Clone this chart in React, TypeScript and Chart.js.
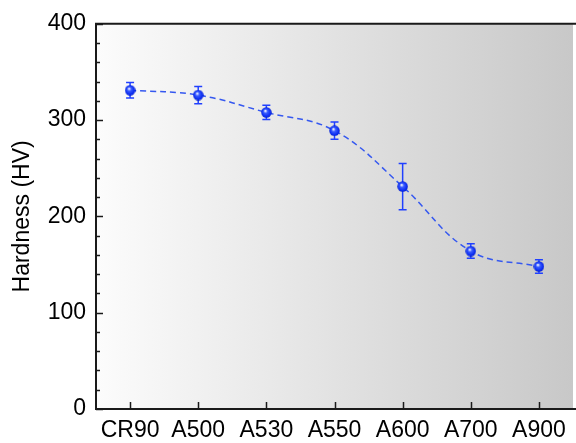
import React, { useEffect, useRef } from "react";
import { Chart, registerables } from "chart.js";

Chart.register(...registerables);

const categories = ["CR90", "A500", "A530", "A550", "A600", "A700", "A900"];
const hardness = [331, 326, 308, 289, 231, 164, 148];
const hardnessErr = [8, 9, 7.5, 9, 24, 7.5, 7];
const yTicks = [0, 100, 200, 300, 400];

const FONT = "'Liberation Sans', Arial, sans-serif";

function makeSphere(d: number): HTMLCanvasElement {
  const c = document.createElement("canvas");
  c.width = d;
  c.height = d;
  const g = c.getContext("2d")!;
  const r = d / 2;
  const grad = g.createRadialGradient(r * 0.8, r * 0.7, 0.5, r, r, r);
  grad.addColorStop(0, "#e8ecff");
  grad.addColorStop(0.3, "#3a5cff");
  grad.addColorStop(0.8, "#0a2af0");
  grad.addColorStop(1, "#0018c0");
  g.fillStyle = grad;
  g.beginPath();
  g.arc(r, r, r - 0.3, 0, Math.PI * 2);
  g.fill();
  return c;
}

const bgPlugin = {
  id: "bgGradient",
  beforeDraw(chart: any) {
    const { ctx, chartArea } = chart;
    const { left, right, top, bottom } = chartArea;
    const grad = ctx.createLinearGradient(left, 0, right, 0);
    grad.addColorStop(0, "#fcfcfc");
    grad.addColorStop(1, "#c8c8c8");
    ctx.save();
    ctx.fillStyle = grad;
    ctx.fillRect(left, top, right - left, bottom - top);
    ctx.restore();
  },
};

const errorBarPlugin = {
  id: "errorBars",
  beforeDatasetsDraw(chart: any) {
    const { ctx } = chart;
    const meta = chart.getDatasetMeta(0);
    const ys = chart.scales.y;
    ctx.save();
    ctx.strokeStyle = "#2040ff";
    ctx.lineWidth = 1.5;
    meta.data.forEach((pt: any, i: number) => {
      const x = pt.x;
      const v = hardness[i];
      const e = hardnessErr[i];
      const yTop = ys.getPixelForValue(v + e);
      const yBot = ys.getPixelForValue(v - e);
      ctx.beginPath();
      ctx.moveTo(x, yTop);
      ctx.lineTo(x, yBot);
      ctx.moveTo(x - 4, yTop);
      ctx.lineTo(x + 4, yTop);
      ctx.moveTo(x - 4, yBot);
      ctx.lineTo(x + 4, yBot);
      ctx.stroke();
    });
    ctx.restore();
  },
};

const axesPlugin = {
  id: "axesFrame",
  afterDraw(chart: any) {
    const { ctx, chartArea } = chart;
    const { left, right, top, bottom } = chartArea;
    const ys = chart.scales.y;
    const xs = chart.scales.x;
    ctx.save();
    ctx.strokeStyle = "#1a1a1a";
    ctx.lineWidth = 2;
    ctx.beginPath();
    ctx.moveTo(left, top);
    ctx.lineTo(right + 4, top);
    ctx.moveTo(left, top - 1);
    ctx.lineTo(left, bottom + 1);
    ctx.moveTo(left - 1, bottom);
    ctx.lineTo(right + 4, bottom);
    ctx.stroke();
    ctx.lineWidth = 1.5;
    ctx.beginPath();
    for (let v = 0; v <= 400; v += 20) {
      const y = Math.round(ys.getPixelForValue(v)) + 0.5;
      const len = v % 100 === 0 ? 7 : 4;
      ctx.moveTo(left, y);
      ctx.lineTo(left + len, y);
    }
    for (let i = 0; i < categories.length; i++) {
      const x = Math.round(xs.getPixelForValue(i)) + 0.5;
      ctx.moveTo(x, bottom);
      ctx.lineTo(x, bottom - 7);
    }
    ctx.stroke();
    ctx.restore();
  },
};

export default function App() {
  const ref = useRef<HTMLCanvasElement | null>(null);
  useEffect(() => {
    if (!ref.current) return;
    const sphere = makeSphere(11);
    const chart = new Chart(ref.current, {
      type: "line",
      data: {
        labels: categories,
        datasets: [
          {
            data: hardness,
            borderColor: "#3558f0",
            borderWidth: 1.5,
            borderDash: [6, 4],
            tension: 0.4,
            pointStyle: sphere as any,
            pointRadius: 5.5,
            fill: false,
          },
        ],
      },
      options: {
        animation: false,
        responsive: false,
        events: [],
        layout: { padding: { top: 20, right: 2, bottom: 0, left: 0 } },
        plugins: {
          legend: { display: false },
          tooltip: { enabled: false },
        },
        scales: {
          x: {
            offset: true,
            grid: { display: false, drawTicks: false },
            border: { display: false },
            ticks: {
              color: "#000",
              font: { family: FONT, size: 23 },
              padding: 8,
              maxRotation: 0,
              autoSkip: false,
            },
            afterFit: (s: any) => {
              s.height = 34;
            },
          },
          y: {
            min: 0,
            max: 400,
            afterBuildTicks: (s: any) => {
              s.ticks = yTicks.map((v) => ({ value: v }));
            },
            grid: { display: false, drawTicks: false },
            border: { display: false },
            ticks: {
              color: "#000",
              font: { family: FONT, size: 23 },
              padding: 10,
            },
            title: {
              display: true,
              text: "Hardness (HV)",
              color: "#000",
              font: { family: FONT, size: 23 },
              padding: { top: 9, bottom: 0 },
            },
            afterFit: (s: any) => {
              s.width = 96;
            },
          },
        },
      },
      plugins: [bgPlugin, errorBarPlugin, axesPlugin],
    });
    return () => chart.destroy();
  }, []);
  return (
    <div
      style={{
        position: "absolute",
        left: 0,
        top: 0,
        width: 576,
        height: 443,
        overflow: "hidden",
        background: "#fff",
      }}
    >
      <canvas ref={ref} width={580} height={443} style={{ display: "block" }} />
    </div>
  );
}
